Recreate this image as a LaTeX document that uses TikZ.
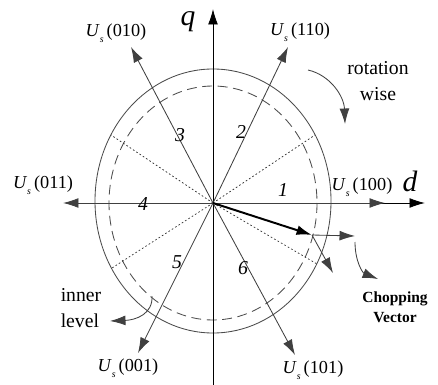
\documentclass[tikz,border=0pt]{standalone}
\usepackage{fontspec}
\setmainfont{Liberation Serif}
\usetikzlibrary{arrows.meta}
\newcommand{\Us}[1]{\textit{U}\raisebox{-0.7ex}{\fontsize{7}{7}\selectfont\textit{s}}\,(#1)}

\begin{document}
\begin{tikzpicture}[x=0.025cm,y=-0.025cm,>={Latex[length=11pt,width=7pt]}]
\tikzstyle{axis}=[draw=black,line width=0.6pt]
\tikzstyle{vec}=[draw=black!75,line width=0.6pt]
\tikzstyle{ring}=[draw=black!70,line width=0.6pt]
\tikzstyle{lbl}=[font=\fontsize{13}{15}\selectfont,inner sep=0pt]
\tikzstyle{sec}=[font=\fontsize{14}{16}\selectfont\itshape,inner sep=0pt]
\tikzstyle{note}=[font=\fontsize{14}{19}\selectfont,align=center,inner sep=0pt]
\useasboundingbox (0,0) rectangle (438,385);
% origin and axis ends
\coordinate (O) at (213,203);
\coordinate (qb) at (213,385);
\coordinate (qt) at (213,9);
\coordinate (dt) at (425,203);
% switching vectors
\coordinate (v100) at (385,203);
\coordinate (v110) at (288,47);
\coordinate (v010) at (131,47);
\coordinate (v011) at (63,203);
\coordinate (v001) at (138,353);
\coordinate (v101) at (295,355);
% sector borders
\coordinate (b1) at (315,135);
\coordinate (b2) at (111,135);
\coordinate (b3) at (112,268);
\coordinate (b4) at (317,264);
% chopping vector
\coordinate (ch) at (312,235);
\coordinate (chd) at (355,236);
\coordinate (chq) at (333,273);

% circles
\draw[ring] (213,201) ellipse [x radius=118, y radius=132];
\draw[ring,dash pattern=on 7pt off 4pt] (O) ellipse [x radius=104, y radius=117];
\foreach \b in {b1,b2,b3,b4}
  \draw[black!80,line width=0.5pt,dash pattern=on 1.2pt off 1.6pt] (O) -- (\b);

% axes
\draw[axis,->] (qb) -- (qt);
\draw[axis,->] (O) -- (dt);
\node[font=\fontsize{21}{21}\selectfont\itshape,inner sep=0pt] (q) at (188,22) {q};
\node[font=\fontsize{21}{21}\selectfont\itshape,inner sep=0pt] (d) at (410,181) {d};

% vectors
\foreach \v in {v100,v110,v010,v011,v001,v101}
  \draw[vec,->] (O) -- (\v);
\node[lbl] (l010) at (116,33) {\Us{010}};
\node[lbl] (l110) at (300,32) {\Us{110}};
\node[lbl] (l011) at (43,185) {\Us{011}};
\node[lbl] (l100) at (362,187) {\Us{100}};
\node[lbl] (l001) at (128,368) {\Us{001}};
\node[lbl] (l101) at (313,370) {\Us{101}};

% sector numbers
\node[sec] (s1) at (283,190) {1};
\node[sec] (s2) at (241,132) {2};
\node[sec] (s3) at (180,135) {3};
\node[sec] (s4) at (143,204) {4};
\node[sec] (s5) at (177,262) {5};
\node[sec] (s6) at (243,268) {6};

% rotation
\node[note] (rot) at (378,81) {rotation\\wise};
\coordinate (r0) at (308,70);
\coordinate (r1) at (345,124);
\draw[vec,->] (r0) .. controls (330,75) and (344,96) .. (r1);

% inner level
\node[note,align=left] (inn) at (81,308) {inner\\level};
\coordinate (i0) at (152,296);
\coordinate (i1) at (110,321);
\draw[vec,->] (i0) .. controls (153,314) and (136,320) .. (i1);

% chopping vector
\draw[black,line width=1.4pt,->] (O) -- (ch);
\draw[vec,->] (ch) -- (chd);
\draw[vec,->] (ch) -- (chq);
\node[font=\fontsize{11}{14}\selectfont\bfseries,align=center,inner sep=0pt] (chl) at (395,307) {Chopping\\Vector};
\coordinate (c0) at (355,242);
\coordinate (c1) at (378,279);
\draw[vec,->] (c0) .. controls (355,262) and (363,273) .. (c1);
\end{tikzpicture}
\end{document}
